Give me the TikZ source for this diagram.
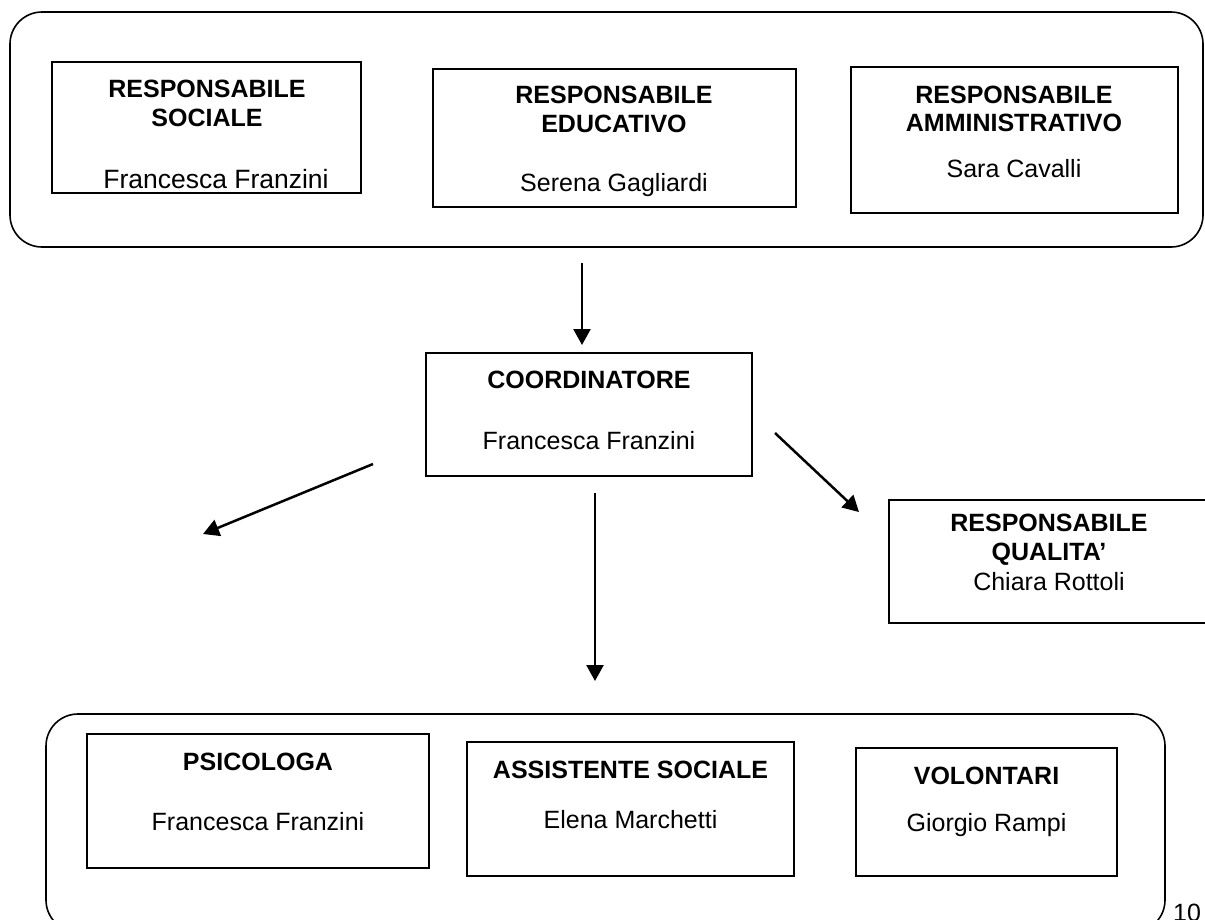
\documentclass[tikz,border=0pt]{standalone}
\usepackage{fontspec}
\setmainfont{Liberation Sans}
\usetikzlibrary{arrows.meta}

\tikzset{
  group/.style={draw, line width=1.6pt, rounded corners=32pt, inner sep=0pt},
  rolebox/.style={draw, line width=1.8pt, inner sep=0pt},
  lbl/.style={anchor=base, inner sep=0pt, font=\fontsize{25pt}{29pt}\selectfont},
  ttl/.style={lbl, font=\fontsize{25pt}{29pt}\selectfont\bfseries},
  arr/.style={line width=2.5pt, -{Triangle[length=16pt,width=17pt]}}
}

\begin{document}
\begin{tikzpicture}[x=1pt,y=-1pt]
\useasboundingbox (0,0) rectangle (1205,919);
\clip (0,0) rectangle (1205,919);

% board of responsibles
\node[group, minimum width=1193pt, minimum height=235pt] (board) at (606.5,129.5) {};
\node[rolebox, minimum width=309pt, minimum height=131pt] (soc) at (206.5,127.5) {};
\node[rolebox, minimum width=363pt, minimum height=138pt] (edu) at (614.5,138) {};
\node[rolebox, minimum width=327pt, minimum height=146pt] (amm) at (1014.5,140) {};

\node[ttl] (socA) at (207,97) {RESPONSABILE};
\node[ttl] (socB) at (207,126) {SOCIALE};
\node[lbl, font=\fontsize{26.5pt}{30pt}\selectfont] (socN) at (216,188) {Francesca Franzini};

\node[ttl] (eduA) at (614,103) {RESPONSABILE};
\node[ttl] (eduB) at (614,132) {EDUCATIVO};
\node[lbl] (eduN) at (614,191) {Serena Gagliardi};

\node[ttl] (ammA) at (1014,103) {RESPONSABILE};
\node[ttl] (ammB) at (1014,131) {AMMINISTRATIVO};
\node[lbl] (ammN) at (1014,177) {Sara Cavalli};

% coordinator
\node[rolebox, minimum width=326pt, minimum height=123pt] (coord) at (589,414.5) {};
\node[ttl] (coordA) at (589,388) {COORDINATORE};
\node[lbl] (coordN) at (589,449) {Francesca Franzini};

% quality manager
\node[rolebox, minimum width=320pt, minimum height=123pt] (qual) at (1049,561.5) {};
\node[ttl] (qualA) at (1049,531) {RESPONSABILE};
\node[ttl] (qualB) at (1049,560) {QUALITA’};
\node[lbl] (qualN) at (1049,590) {Chiara Rottoli};

% operating staff
\node[group, minimum width=1119pt, minimum height=218pt] (staff) at (605.5,823) {};
\node[rolebox, minimum width=342pt, minimum height=134pt] (psi) at (258,801) {};
\node[rolebox, minimum width=327pt, minimum height=134pt] (ass) at (630.5,809) {};
\node[rolebox, minimum width=261pt, minimum height=128pt] (vol) at (986.5,812) {};

\node[ttl] (psiA) at (258,770) {PSICOLOGA};
\node[lbl] (psiN) at (258,830) {Francesca Franzini};
\node[ttl] (assA) at (630.5,778) {ASSISTENTE SOCIALE};
\node[lbl] (assN) at (630.5,828) {Elena Marchetti};
\node[ttl] (volA) at (986.5,784) {VOLONTARI};
\node[lbl] (volN) at (986.5,831) {Giorgio Rampi};

% page number, partly below the page edge
\node[anchor=base west, inner sep=0pt, font=\fontsize{25pt}{29pt}\selectfont] (page) at (1173,921) {10};

% arrow end points
\coordinate (boardOut) at (582,263);
\coordinate (coordIn) at (582,345);
\coordinate (coordL) at (373,464);
\coordinate (leftEnd) at (203,534);
\coordinate (coordR) at (775,433);
\coordinate (qualIn) at (859,512);
\coordinate (coordD) at (595,493);
\coordinate (staffIn) at (595,681);

\draw[arr] (boardOut) -- (coordIn);
\draw[arr] (coordL) -- (leftEnd);
\draw[arr] (coordR) -- (qualIn);
\draw[arr] (coordD) -- (staffIn);
\end{tikzpicture}
\end{document}
